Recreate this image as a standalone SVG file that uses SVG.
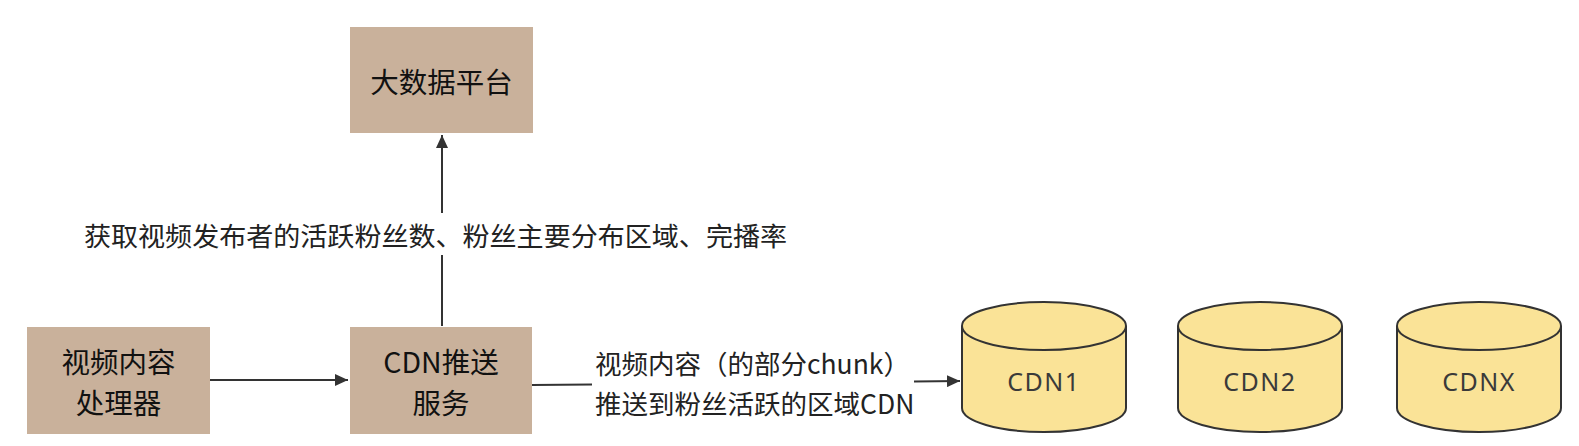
<svg xmlns="http://www.w3.org/2000/svg" width="1579" height="446" viewBox="0 0 1579 446">
<style>
.box{fill:#c9b19b;}
.bt{font-family:"Noto Sans CJK SC","Noto Sans",sans-serif;font-size:28.5px;fill:#111;text-anchor:middle;dominant-baseline:central;}
.cyl{fill:#fae397;stroke:#333;stroke-width:2;}
.ct{font-family:"Noto Sans","Noto Sans CJK SC",sans-serif;font-size:25px;fill:#3a3a3a;text-anchor:middle;dominant-baseline:central;letter-spacing:1.5px;}
.lbl{font-family:"Noto Sans CJK SC","Noto Sans",sans-serif;font-size:26.5px;fill:#222;dominant-baseline:central;}
.edge{stroke:#333;stroke-width:2;fill:none;}
</style>
<defs>
<marker id="arr" markerWidth="14" markerHeight="12" refX="13" refY="6" orient="auto" markerUnits="userSpaceOnUse">
<path d="M0,0 L13,6 L0,12 Z" fill="#333"/>
</marker>
</defs>
<rect width="1579" height="446" fill="#ffffff"/>
<g id="connectors">
<path class="edge" d="M210,380 L348,380" marker-end="url(#arr)"/>
<path class="edge" d="M442,326 L442,255" />
<path class="edge" d="M442,213 L442,135" marker-end="url(#arr)"/>
<path class="edge" d="M532,385 L592,384.5"/>
<path class="edge" d="M914,381.5 L960,381" marker-end="url(#arr)"/>
<text class="lbl" x="84" y="234" textLength="703" lengthAdjust="spacingAndGlyphs">获取视频发布者的活跃粉丝数、粉丝主要分布区域、完播率</text>
<text class="lbl" x="595" y="362">视频内容（的部分chunk）</text>
<text class="lbl" x="595" y="402">推送到粉丝活跃的区域CDN</text>
</g>
<g id="bigdata">
<rect class="box" x="350" y="27" width="183" height="106"/>
<text class="bt" x="441.5" y="80">大数据平台</text>
</g>
<g id="processor">
<rect class="box" x="27" y="327" width="183" height="107"/>
<text class="bt" x="118.5" y="360">视频内容</text>
<text class="bt" x="118.5" y="401">处理器</text>
</g>
<g id="cdnpush">
<rect class="box" x="350" y="327" width="182" height="107"/>
<text class="bt" x="441" y="360">CDN推送</text>
<text class="bt" x="441" y="401">服务</text>
</g>
<g id="cdn1">
<path class="cyl" d="M962,326 L962,408 A82,24 0 0 0 1126,408 L1126,326"/>
<ellipse class="cyl" cx="1044" cy="326" rx="82" ry="24"/>
<text class="ct" x="1044" y="381">CDN1</text>
</g>
<g id="cdn2">
<path class="cyl" d="M1178,326 L1178,408 A82,24 0 0 0 1342,408 L1342,326"/>
<ellipse class="cyl" cx="1260" cy="326" rx="82" ry="24"/>
<text class="ct" x="1260" y="381">CDN2</text>
</g>
<g id="cdnx">
<path class="cyl" d="M1397,326 L1397,408 A82,24 0 0 0 1561,408 L1561,326"/>
<ellipse class="cyl" cx="1479" cy="326" rx="82" ry="24"/>
<text class="ct" x="1479" y="381">CDNX</text>
</g>
</svg>
